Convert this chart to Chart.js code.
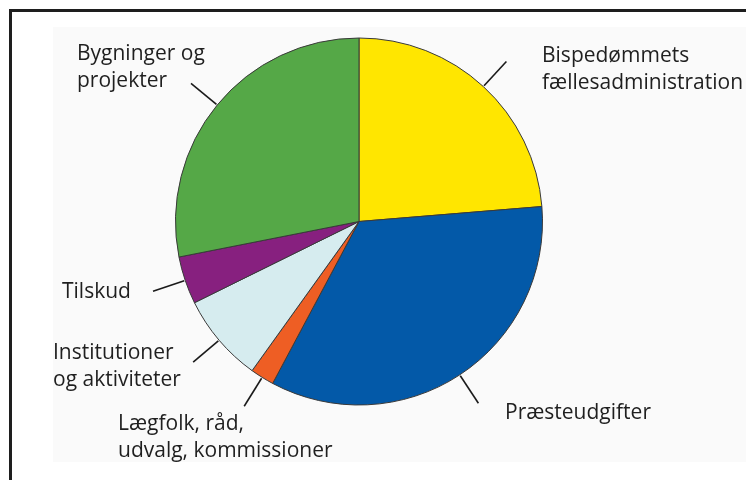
<!DOCTYPE html>
<html>
<head>
<meta charset="utf-8">
<script src="https://cdn.jsdelivr.net/npm/chart.js@4.4.1/dist/chart.umd.min.js"></script>
<style>
  html, body { margin: 0; padding: 0; background: #fff; }
  #wrap { width: 746px; height: 480px; position: relative; }
</style>
</head>
<body>
<div id="wrap"><canvas id="pie" width="746" height="480"></canvas></div>
<script>
// Slices clockwise from 12 o'clock, shares in percent
const categories = [
    'Bispedømmets fællesadministration',
    'Præsteudgifter',
    'Lægfolk, råd, udvalg, kommissioner',
    'Institutioner og aktiviteter',
    'Tilskud',
    'Bygninger og projekter'
];
const labelLines = [
    ['Bispedømmets', 'fællesadministration'],
    ['Præsteudgifter'],
    ['Lægfolk, råd,', 'udvalg, kommissioner'],
    ['Institutioner', 'og aktiviteter'],
    ['Tilskud'],
    ['Bygninger og', 'projekter']
];
const shares = [23.7, 34.1, 2.1, 7.8, 4.2, 28.1];

const sliceColors = ['#ffe600', '#0359a8', '#ee5e24', '#d6ecef', '#87207f', '#55a847'];

// where each label's first baseline sits
const labelPos = [
    { x: 542, y: 62 },
    { x: 505, y: 419 },
    { x: 118, y: 430 },
    { x: 53, y: 359 },
    { x: 62, y: 298 },
    { x: 77, y: 60 }
];

const framePlugin = {
    id: 'frame',
    beforeDraw(chart) {
        const ctx = chart.ctx;
        ctx.save();
        ctx.fillStyle = '#ffffff';
        ctx.fillRect(0, 0, 746, 480);
        ctx.fillStyle = '#fafafa';
        ctx.fillRect(53, 27, 693, 435);
        // black frame, clipped by the right and bottom edges
        ctx.strokeStyle = '#1e1e1e';
        ctx.lineWidth = 3;
        ctx.beginPath();
        ctx.moveTo(10.5, 490);
        ctx.lineTo(10.5, 10.5);
        ctx.lineTo(760, 10.5);
        ctx.stroke();
        ctx.restore();
    }
};

const calloutPlugin = {
    id: 'callouts',
    afterDatasetsDraw(chart) {
        const ctx = chart.ctx;
        const arcs = chart.getDatasetMeta(0).data;
        ctx.save();
        ctx.strokeStyle = '#1a1a1a';
        ctx.lineWidth = 1.6;
        arcs.forEach((arc, i) => {
            const mid = (arc.startAngle + arc.endAngle) / 2;
            const r = arc.outerRadius;
            ctx.beginPath();
            ctx.moveTo(arc.x + Math.cos(mid) * (r + 1), arc.y + Math.sin(mid) * (r + 1));
            ctx.lineTo(arc.x + Math.cos(mid) * (r + 34), arc.y + Math.sin(mid) * (r + 34));
            ctx.stroke();
        });
        ctx.fillStyle = '#1f1f1f';
        ctx.font = '21px "Open Sans"';
        ctx.textAlign = 'left';
        ctx.textBaseline = 'alphabetic';
        labelLines.forEach((lines, i) => {
            lines.forEach((t, j) => {
                ctx.fillText(t, labelPos[i].x, labelPos[i].y + j * 27);
            });
        });
        ctx.restore();
    }
};

new Chart(document.getElementById('pie'), {
    type: 'pie',
    data: {
        labels: categories,
        datasets: [{
            data: shares,
            backgroundColor: sliceColors,
            borderColor: '#3a3a3a',
            borderWidth: 1
        }]
    },
    options: {
        responsive: false,
        animation: false,
        radius: 183.5,
        layout: { padding: { left: 175.5, right: 203.5, top: 38, bottom: 75 } },
        plugins: {
            legend: { display: false },
            tooltip: { enabled: false }
        }
    },
    plugins: [framePlugin, calloutPlugin]
});
</script>
</body>
</html>
